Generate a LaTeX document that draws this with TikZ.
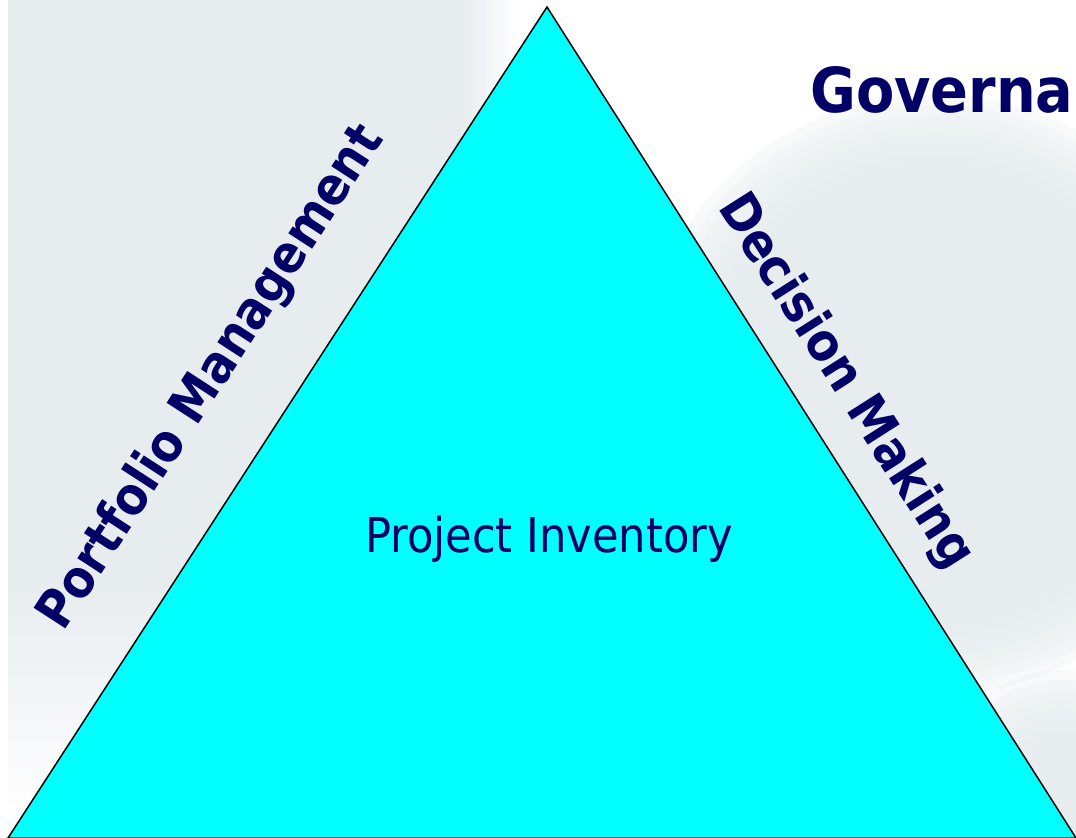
\documentclass[tikz,border=0pt]{standalone}
\usepackage{fontspec}
\setmainfont{DejaVu Sans Condensed}
\definecolor{navy}{RGB}{0,0,102}
\definecolor{bggray}{RGB}{231,236,239}
\definecolor{tricyan}{RGB}{0,255,255}
\tikzset{
  sidelabel/.style={text=navy, font=\bfseries\fontsize{26}{30}\selectfont, inner sep=0pt},
  titlelabel/.style={text=navy, font=\bfseries\fontsize{31}{36}\selectfont, inner sep=0pt},
  innerlabel/.style={text=navy, font=\fontsize{24}{28}\selectfont, inner sep=0pt},
  pyramid/.style={fill=tricyan, draw=black, line width=0.75pt, line join=miter},
  haze/.style={fill=bggray, opacity=0.25}
}
\begin{document}
\begin{tikzpicture}[x=0.5pt, y=-0.5pt]
\useasboundingbox (0,0) rectangle (1076,838);
\fill[white] (0,0) rectangle (1076,838);
% background halftone areas (approximated)
\begin{scope}
\clip (8,0) rectangle (1076,838);
\foreach \r in {300,290,...,210} {\fill[haze] (935,395) circle (\r);}
\fill[bggray] (935,395) circle (200);
\foreach \r in {120,110,...,40} {\fill[haze] (1060,790) circle (\r);}
\end{scope}
\fill[bggray] (8,0) rectangle (460,580);
\shade[top color=bggray, bottom color=white] (8,579) rectangle (460,820);
\shade[left color=bggray, right color=white] (459,0) rectangle (520,580);
% triangle
\coordinate (apex) at (547,7);
\coordinate (bl) at (8,838);
\coordinate (br) at (1076,838);
\filldraw[pyramid] (apex) -- (bl) -- (br) -- cycle;
% labels
\node[innerlabel, anchor=base] (inv) at (549,553) {Project Inventory};
\node[sidelabel, rotate=57] (pm) at (212,378) {Portfolio Management};
\node[sidelabel, rotate=-57.5] (dm) at (845,382) {Decision Making};
\node[titlelabel, anchor=base west] (gov) at (810,113) {Governa};
\end{tikzpicture}
\end{document}
